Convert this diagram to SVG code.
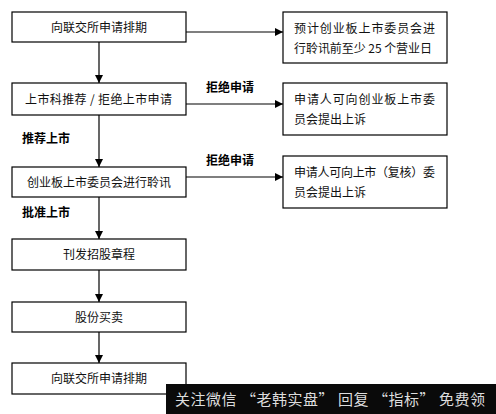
<svg xmlns="http://www.w3.org/2000/svg" width="496" height="414" viewBox="0 0 496 414">
<style>
.box{fill:#fff;stroke:#000;stroke-width:1.2}
.t{font-family:"Noto Sans CJK SC","Liberation Sans",sans-serif;font-size:12px;fill:#111}
.b{font-family:"Noto Sans CJK SC","Liberation Sans",sans-serif;font-size:12px;font-weight:bold;fill:#000}
.c{stroke:#000;stroke-width:1.2;fill:none}
</style>
<defs>
<marker id="ah" viewBox="0 0 8 8" refX="8" refY="4" markerWidth="8" markerHeight="8" markerUnits="userSpaceOnUse" orient="auto">
<path d="M0,0 L8,4 L0,8 Z" fill="#000"/>
</marker>
</defs>
<rect width="496" height="414" fill="#fff"/>
<g id="connectors">
<line class="c" x1="99" y1="42" x2="99" y2="83" marker-end="url(#ah)"/>
<line class="c" x1="99" y1="115" x2="99" y2="167" marker-end="url(#ah)"/>
<line class="c" x1="99" y1="197" x2="99" y2="239" marker-end="url(#ah)"/>
<line class="c" x1="99" y1="270" x2="99" y2="302" marker-end="url(#ah)"/>
<line class="c" x1="99" y1="332" x2="99" y2="363" marker-end="url(#ah)"/>
<line class="c" x1="186" y1="32" x2="283" y2="32" marker-end="url(#ah)"/>
<line class="c" x1="186" y1="104" x2="283" y2="104" marker-end="url(#ah)"/>
<line class="c" x1="186" y1="177" x2="283" y2="177" marker-end="url(#ah)"/>
<text class="b" x="206" y="92">拒绝申请</text>
<text class="b" x="206" y="165">拒绝申请</text>
<text class="b" x="22" y="143">推荐上市</text>
<text class="b" x="22" y="217">批准上市</text>
</g>
<g id="n1"><rect class="box" x="12" y="12" width="174" height="30"/><text class="t" x="99" y="31.5" text-anchor="middle">向联交所申请排期</text></g>
<g id="n2"><rect class="box" x="12" y="83" width="174" height="32"/><text class="t" x="25" y="103.5" textLength="147">上市科推荐 / 拒绝上市申请</text></g>
<g id="n3"><rect class="box" x="12" y="167" width="174" height="30"/><text class="t" x="99" y="186.5" text-anchor="middle">创业板上市委员会进行聆讯</text></g>
<g id="n4"><rect class="box" x="12" y="239" width="174" height="31"/><text class="t" x="99" y="259" text-anchor="middle">刊发招股章程</text></g>
<g id="n5"><rect class="box" x="12" y="302" width="174" height="30"/><text class="t" x="99" y="321.5" text-anchor="middle">股份买卖</text></g>
<g id="n6"><rect class="box" x="12" y="363" width="174" height="31"/><text class="t" x="99" y="383" text-anchor="middle">向联交所申请排期</text></g>
<g id="r1"><rect class="box" x="283" y="12" width="164" height="51"/><text class="t" x="294" y="32.5" textLength="141">预计创业板上市委员会进</text><text class="t" x="294" y="52.5" textLength="138">行聆讯前至少 25 个营业日</text></g>
<g id="r2"><rect class="box" x="283" y="83" width="164" height="52"/><text class="t" x="294" y="104" textLength="141">申请人可向创业板上市委</text><text class="t" x="294" y="124">员会提出上诉</text></g>
<g id="r3"><rect class="box" x="283" y="156" width="164" height="52"/><text class="t" x="294" y="177" textLength="141">申请人可向上市（复核）委</text><text class="t" x="294" y="197">员会提出上诉</text></g>
<g id="watermark"><rect x="166" y="384" width="330" height="30" fill="#0a0a0a"/><text x="175" y="405" font-family="Noto Sans CJK SC,sans-serif" font-size="15" fill="#ddd" textLength="310">关注微信 “老韩实盘” 回复 “指标” 免费领</text></g>
</svg>
